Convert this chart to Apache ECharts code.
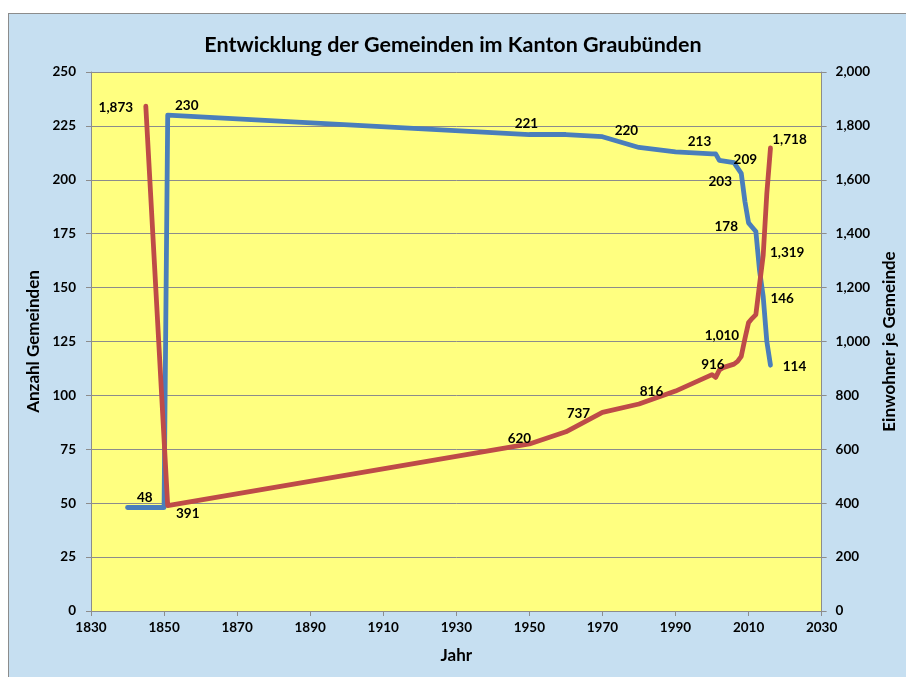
<!DOCTYPE html>
<html>
<head>
<meta charset="utf-8">
<script src="https://cdn.jsdelivr.net/npm/echarts@6/dist/echarts.min.js"></script>
<style>
    html, body { margin: 0; padding: 0; background: #fff; }
    #frame {
        position: absolute; left: 8px; top: 13px; width: 906px; height: 670px;
        background: #c6dff1; border: 1px solid #8c8c8c; box-sizing: border-box;
    }
    #chart { position: absolute; left: 0; top: 0; width: 906px; height: 677px; }
</style>
</head>
<body>
<div id="frame"></div>
<div id="chart"></div>
<script>
// Anzahl Gemeinden (linke Achse)
const gemeindeJahre = [1840, 1845, 1850, 1851, 1950, 1960, 1970, 1980, 1990, 2000, 2001, 2002, 2006, 2008, 2009, 2010, 2011, 2012, 2013, 2014, 2015, 2016];
const gemeinden     = [48, 48, 48, 230, 221, 221, 220, 215, 213, 212, 212, 209, 208, 203, 190, 180, 178, 176, 158, 146, 125, 114];

// Einwohner je Gemeinde (rechte Achse)
const einwohnerJahre = [1845, 1851, 1950, 1960, 1970, 1980, 1990, 2000, 2001, 2002, 2003, 2006, 2007, 2008, 2009, 2010, 2011, 2012, 2013, 2014, 2015, 2016];
const einwohner      = [1873, 391, 620, 665, 737, 768, 816, 877, 867, 894, 903, 916, 926, 945, 1010, 1070, 1086, 1100, 1210, 1319, 1550, 1718];

// Jahre mit Beschriftung und deren Versatz
const gemeindeLabels  = {1845: [-1, -10], 1851: [19, -9], 1950: [-3, -11], 1970: [24, -6], 1990: [24, -10],
                         2002: [26, -1], 2008: [-21, 8], 2011: [-26, -1], 2014: [19, 2], 2016: [24, 1]};
const einwohnerLabels = {1845: [-30, 1], 1851: [20, 8], 1950: [-10, -5], 1970: [-24, 1], 1990: [-24, 1],
                         2006: [-21, 1], 2009: [-23, -3], 2014: [24, -3], 2016: [19, -8]};

const font = 'Lato, "Open Sans", sans-serif';
const fmt = v => v.toLocaleString('en-US');

function buildData(jahre, werte, labels) {
    return jahre.map((j, i) => {
        const item = {value: [j, werte[i]]};
        if (labels[j]) {
            item.label = {show: true, position: 'inside', offset: labels[j]};
        }
        return item;
    });
}

const chart = echarts.init(document.getElementById('chart'));

const labelStyle = {
    show: false,
    color: '#000',
    fontFamily: font,
    fontWeight: 'bold',
    fontSize: 13.5,
    formatter: p => fmt(p.value[1])
};
const nameStyle = {fontFamily: font, fontWeight: 'bold', fontSize: 17, color: '#000'};
const tickStyle = {fontFamily: font, fontWeight: 'bold', fontSize: 13.5, color: '#000'};

const option = {
    animation: false,
    title: {
        text: 'Entwicklung der Gemeinden im Kanton Graubünden',
        left: 'center',
        top: 29,
        textStyle: {fontFamily: font, fontWeight: 'bold', fontSize: 21.5, color: '#000'}
    },
    grid: {
        left: 91, right: 84, top: 72, bottom: 66,
        show: true, backgroundColor: '#ffff80', borderWidth: 0
    },
    xAxis: {
        type: 'value',
        min: 1830, max: 2030, interval: 20,
        name: 'Jahr',
        nameLocation: 'middle',
        nameGap: 36,
        nameTextStyle: nameStyle,
        axisLine: {lineStyle: {color: '#8c8c8c'}},
        axisTick: {length: 5, lineStyle: {color: '#8c8c8c'}},
        axisLabel: Object.assign({margin: 10, formatter: v => String(v)}, tickStyle),
        splitLine: {show: false}
    },
    yAxis: [{
        type: 'value',
        min: 0, max: 250, interval: 25,
        name: 'Anzahl Gemeinden',
        nameLocation: 'middle',
        nameRotate: 90,
        nameGap: 43,
        nameTextStyle: nameStyle,
        axisLine: {show: true, lineStyle: {color: '#8c8c8c'}},
        axisTick: {show: true, length: 5, lineStyle: {color: '#8c8c8c'}},
        axisLabel: Object.assign({margin: 15}, tickStyle),
        splitLine: {lineStyle: {color: '#8c8c8c'}}
    }, {
        type: 'value',
        min: 0, max: 2000, interval: 200,
        name: 'Einwohner je Gemeinde',
        nameLocation: 'middle',
        nameRotate: 90,
        nameGap: 55,
        nameTextStyle: nameStyle,
        axisLine: {show: true, lineStyle: {color: '#8c8c8c'}},
        axisTick: {show: true, length: 5, lineStyle: {color: '#8c8c8c'}},
        axisLabel: Object.assign({margin: 14, formatter: v => fmt(v)}, tickStyle),
        splitLine: {show: false}
    }],
    series: [{
        name: 'Anzahl Gemeinden',
        type: 'line',
        yAxisIndex: 0,
        symbol: 'circle',
        symbolSize: 0,
        showSymbol: true,
        lineStyle: {color: '#4a7ebb', width: 4.8, cap: 'round', join: 'round'},
        itemStyle: {color: '#4a7ebb'},
        label: labelStyle,
        data: buildData(gemeindeJahre, gemeinden, gemeindeLabels)
    }, {
        name: 'Einwohner je Gemeinde',
        type: 'line',
        yAxisIndex: 1,
        symbol: 'circle',
        symbolSize: 0,
        showSymbol: true,
        lineStyle: {color: '#be4b48', width: 4.8, cap: 'round', join: 'round'},
        itemStyle: {color: '#be4b48'},
        label: labelStyle,
        data: buildData(einwohnerJahre, einwohner, einwohnerLabels)
    }]
};

chart.setOption(option);
</script>
</body>
</html>
